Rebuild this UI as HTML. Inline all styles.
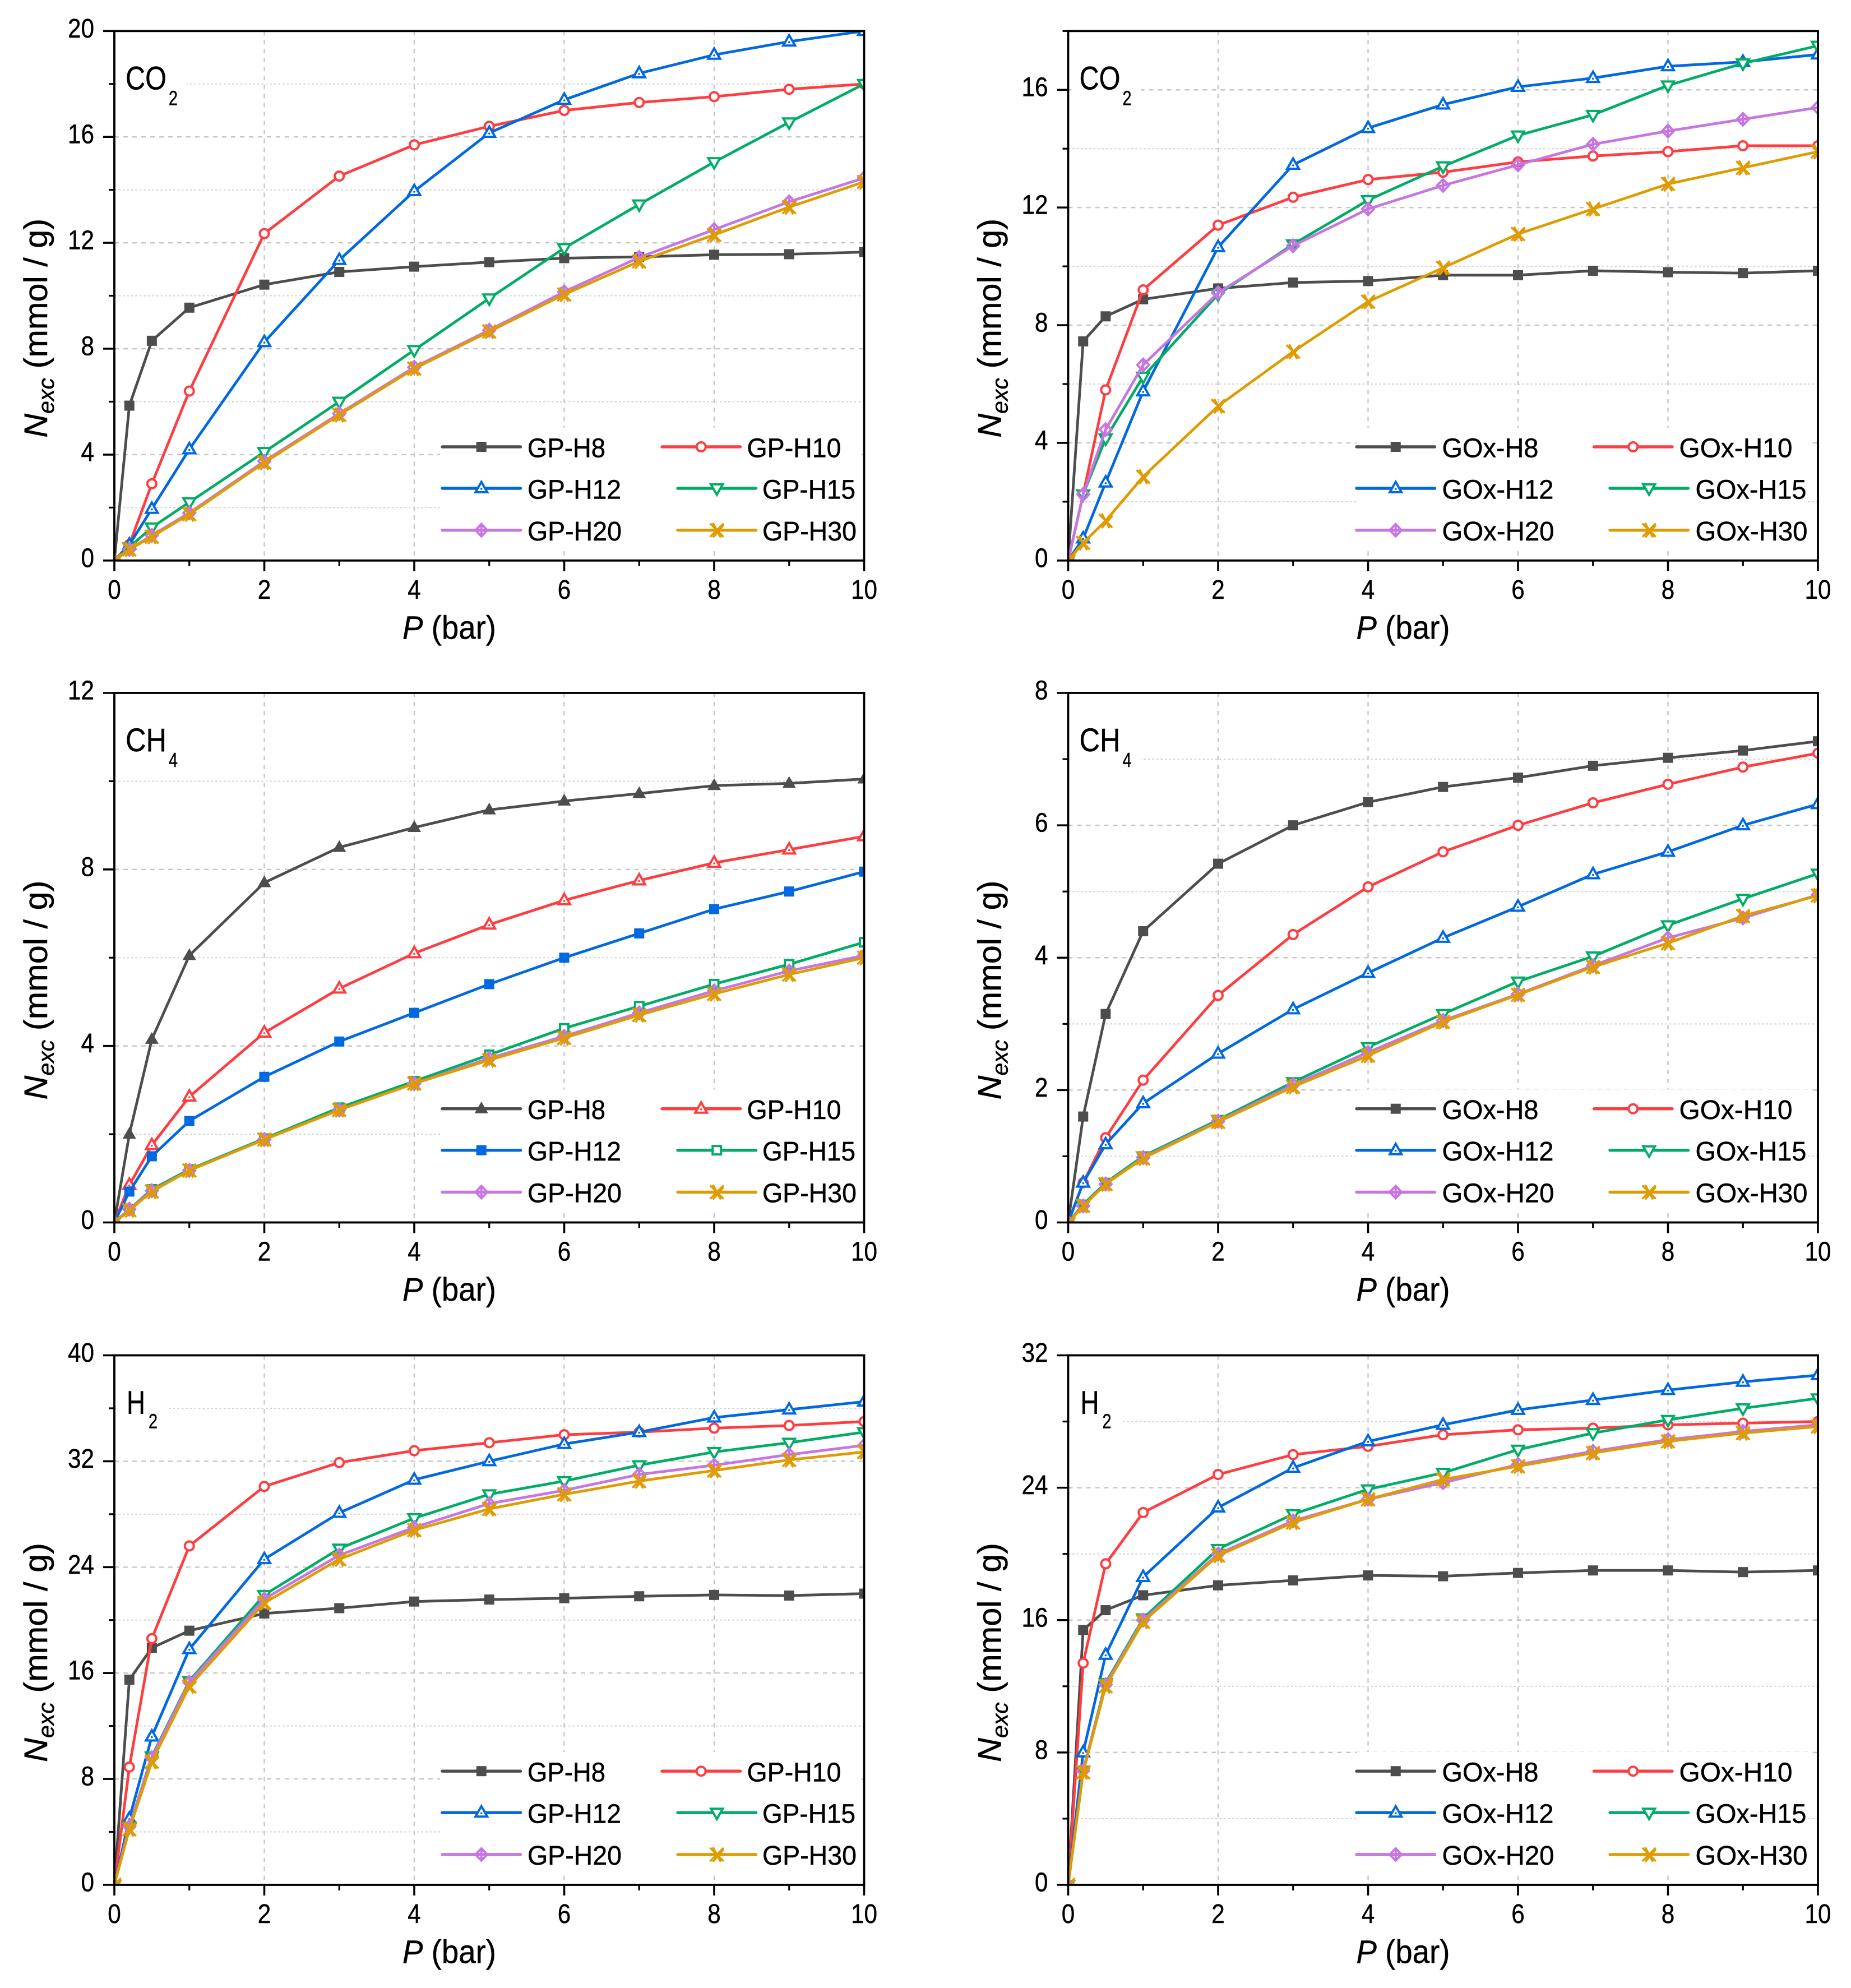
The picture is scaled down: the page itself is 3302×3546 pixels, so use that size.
<!DOCTYPE html>
<html lang="en">
<head>
<meta charset="utf-8">
<title>Excess adsorption isotherms</title>
<style>
html,body{margin:0;padding:0;background:#fff;width:3302px;height:3546px;overflow:hidden}
svg{display:block;font-family:"Liberation Sans",Arial,sans-serif;fill:#000}
text{white-space:pre;fill:#000;stroke:#000;stroke-width:.5px}
.tick{font-size:48px}
.leg{font-size:48px}
.gas{font-size:58px}
.gas-sub{font-size:36px}
.axt{font-size:58px}
.it{font-style:italic}
</style>
</head>
<body>
<svg id="figure" xmlns="http://www.w3.org/2000/svg" width="3302" height="3546" viewBox="0 0 3302 3546">
<defs><clipPath id="plot-clip"><rect x="0" y="0" width="1337.5" height="944.5"/></clipPath></defs>

<g data-panel="a" transform="translate(204,55.3)">
  <g class="grid"></g>
  <rect class="lbox" x="6" y="45" width="124" height="100" fill="#fff"/>
  <rect class="lgbox" x="581" y="707.5" width="752" height="217" fill="#fff"/>
  <g class="series" clip-path="url(#plot-clip)"></g>
  <g class="axes"></g>
  <text class="gas" x="20" y="104" textLength="73" lengthAdjust="spacingAndGlyphs">CO</text>
  <text class="gas-sub" x="97" y="132" textLength="16" lengthAdjust="spacingAndGlyphs">2</text>
  <text class="axt" x="514" y="1084" textLength="167" lengthAdjust="spacingAndGlyphs"><tspan class="it">P</tspan> (bar)</text>
  <text class="axt" transform="translate(-120,725.5) rotate(-90)" textLength="391" lengthAdjust="spacingAndGlyphs"><tspan class="it">N</tspan><tspan class="it" font-size="40" dy="12">exc</tspan><tspan dy="-12"> (mmol / g)</tspan></text>
  <g class="legend">
    <text class="leg" x="737" y="760" textLength="139" lengthAdjust="spacingAndGlyphs">GP-H8</text>
    <text class="leg" x="1128.5" y="760" textLength="168" lengthAdjust="spacingAndGlyphs">GP-H10</text>
    <text class="leg" x="737" y="834" textLength="167" lengthAdjust="spacingAndGlyphs">GP-H12</text>
    <text class="leg" x="1156" y="834" textLength="166" lengthAdjust="spacingAndGlyphs">GP-H15</text>
    <text class="leg" x="737" y="908.5" textLength="168" lengthAdjust="spacingAndGlyphs">GP-H20</text>
    <text class="leg" x="1156" y="908.5" textLength="168" lengthAdjust="spacingAndGlyphs">GP-H30</text>
  </g>
</g>

<g data-panel="b" transform="translate(1905.5,55.3)">
  <g class="grid"></g>
  <rect class="lbox" x="6" y="45" width="124" height="100" fill="#fff"/>
  <rect class="lgbox" x="515" y="707.5" width="805" height="217" fill="#fff"/>
  <g class="series" clip-path="url(#plot-clip)"></g>
  <g class="axes"></g>
  <text class="gas" x="20" y="104" textLength="73" lengthAdjust="spacingAndGlyphs">CO</text>
  <text class="gas-sub" x="97" y="132" textLength="16" lengthAdjust="spacingAndGlyphs">2</text>
  <text class="axt" x="514" y="1084" textLength="167" lengthAdjust="spacingAndGlyphs"><tspan class="it">P</tspan> (bar)</text>
  <text class="axt" transform="translate(-120,725.5) rotate(-90)" textLength="391" lengthAdjust="spacingAndGlyphs"><tspan class="it">N</tspan><tspan class="it" font-size="40" dy="12">exc</tspan><tspan dy="-12"> (mmol / g)</tspan></text>
  <g class="legend">
    <text class="leg" x="667" y="760" textLength="172" lengthAdjust="spacingAndGlyphs">GOx-H8</text>
    <text class="leg" x="1090" y="760" textLength="202" lengthAdjust="spacingAndGlyphs">GOx-H10</text>
    <text class="leg" x="667" y="834" textLength="199" lengthAdjust="spacingAndGlyphs">GOx-H12</text>
    <text class="leg" x="1119" y="834" textLength="198" lengthAdjust="spacingAndGlyphs">GOx-H15</text>
    <text class="leg" x="667" y="908.5" textLength="200" lengthAdjust="spacingAndGlyphs">GOx-H20</text>
    <text class="leg" x="1119" y="908.5" textLength="200" lengthAdjust="spacingAndGlyphs">GOx-H30</text>
  </g>
</g>

<g data-panel="c" transform="translate(204,1236)">
  <g class="grid"></g>
  <rect class="lbox" x="6" y="45" width="124" height="100" fill="#fff"/>
  <rect class="lgbox" x="581" y="707.5" width="752" height="217" fill="#fff"/>
  <g class="series" clip-path="url(#plot-clip)"></g>
  <g class="axes"></g>
  <text class="gas" x="20" y="104" textLength="73" lengthAdjust="spacingAndGlyphs">CH</text>
  <text class="gas-sub" x="97" y="132" textLength="16" lengthAdjust="spacingAndGlyphs">4</text>
  <text class="axt" x="514" y="1084" textLength="167" lengthAdjust="spacingAndGlyphs"><tspan class="it">P</tspan> (bar)</text>
  <text class="axt" transform="translate(-120,725.5) rotate(-90)" textLength="391" lengthAdjust="spacingAndGlyphs"><tspan class="it">N</tspan><tspan class="it" font-size="40" dy="12">exc</tspan><tspan dy="-12"> (mmol / g)</tspan></text>
  <g class="legend">
    <text class="leg" x="737" y="760" textLength="139" lengthAdjust="spacingAndGlyphs">GP-H8</text>
    <text class="leg" x="1128.5" y="760" textLength="168" lengthAdjust="spacingAndGlyphs">GP-H10</text>
    <text class="leg" x="737" y="834" textLength="167" lengthAdjust="spacingAndGlyphs">GP-H12</text>
    <text class="leg" x="1156" y="834" textLength="166" lengthAdjust="spacingAndGlyphs">GP-H15</text>
    <text class="leg" x="737" y="908.5" textLength="168" lengthAdjust="spacingAndGlyphs">GP-H20</text>
    <text class="leg" x="1156" y="908.5" textLength="168" lengthAdjust="spacingAndGlyphs">GP-H30</text>
  </g>
</g>

<g data-panel="d" transform="translate(1905.5,1236)">
  <g class="grid"></g>
  <rect class="lbox" x="6" y="45" width="124" height="100" fill="#fff"/>
  <rect class="lgbox" x="515" y="707.5" width="805" height="217" fill="#fff"/>
  <g class="series" clip-path="url(#plot-clip)"></g>
  <g class="axes"></g>
  <text class="gas" x="20" y="104" textLength="73" lengthAdjust="spacingAndGlyphs">CH</text>
  <text class="gas-sub" x="97" y="132" textLength="16" lengthAdjust="spacingAndGlyphs">4</text>
  <text class="axt" x="514" y="1084" textLength="167" lengthAdjust="spacingAndGlyphs"><tspan class="it">P</tspan> (bar)</text>
  <text class="axt" transform="translate(-120,725.5) rotate(-90)" textLength="391" lengthAdjust="spacingAndGlyphs"><tspan class="it">N</tspan><tspan class="it" font-size="40" dy="12">exc</tspan><tspan dy="-12"> (mmol / g)</tspan></text>
  <g class="legend">
    <text class="leg" x="667" y="760" textLength="172" lengthAdjust="spacingAndGlyphs">GOx-H8</text>
    <text class="leg" x="1090" y="760" textLength="202" lengthAdjust="spacingAndGlyphs">GOx-H10</text>
    <text class="leg" x="667" y="834" textLength="199" lengthAdjust="spacingAndGlyphs">GOx-H12</text>
    <text class="leg" x="1119" y="834" textLength="198" lengthAdjust="spacingAndGlyphs">GOx-H15</text>
    <text class="leg" x="667" y="908.5" textLength="200" lengthAdjust="spacingAndGlyphs">GOx-H20</text>
    <text class="leg" x="1119" y="908.5" textLength="200" lengthAdjust="spacingAndGlyphs">GOx-H30</text>
  </g>
</g>

<g data-panel="e" transform="translate(204,2417.5)">
  <g class="grid"></g>
  <rect class="lbox" x="6" y="45" width="92" height="100" fill="#fff"/>
  <rect class="lgbox" x="581" y="707.5" width="752" height="217" fill="#fff"/>
  <g class="series" clip-path="url(#plot-clip)"></g>
  <g class="axes"></g>
  <text class="gas" x="22" y="104" textLength="33" lengthAdjust="spacingAndGlyphs">H</text>
  <text class="gas-sub" x="61" y="130" textLength="16" lengthAdjust="spacingAndGlyphs">2</text>
  <text class="axt" x="514" y="1084" textLength="167" lengthAdjust="spacingAndGlyphs"><tspan class="it">P</tspan> (bar)</text>
  <text class="axt" transform="translate(-120,725.5) rotate(-90)" textLength="391" lengthAdjust="spacingAndGlyphs"><tspan class="it">N</tspan><tspan class="it" font-size="40" dy="12">exc</tspan><tspan dy="-12"> (mmol / g)</tspan></text>
  <g class="legend">
    <text class="leg" x="737" y="760" textLength="139" lengthAdjust="spacingAndGlyphs">GP-H8</text>
    <text class="leg" x="1128.5" y="760" textLength="168" lengthAdjust="spacingAndGlyphs">GP-H10</text>
    <text class="leg" x="737" y="834" textLength="167" lengthAdjust="spacingAndGlyphs">GP-H12</text>
    <text class="leg" x="1156" y="834" textLength="166" lengthAdjust="spacingAndGlyphs">GP-H15</text>
    <text class="leg" x="737" y="908.5" textLength="168" lengthAdjust="spacingAndGlyphs">GP-H20</text>
    <text class="leg" x="1156" y="908.5" textLength="168" lengthAdjust="spacingAndGlyphs">GP-H30</text>
  </g>
</g>

<g data-panel="f" transform="translate(1905.5,2417.5)">
  <g class="grid"></g>
  <rect class="lbox" x="6" y="45" width="92" height="100" fill="#fff"/>
  <rect class="lgbox" x="515" y="707.5" width="805" height="217" fill="#fff"/>
  <g class="series" clip-path="url(#plot-clip)"></g>
  <g class="axes"></g>
  <text class="gas" x="22" y="104" textLength="33" lengthAdjust="spacingAndGlyphs">H</text>
  <text class="gas-sub" x="61" y="130" textLength="16" lengthAdjust="spacingAndGlyphs">2</text>
  <text class="axt" x="514" y="1084" textLength="167" lengthAdjust="spacingAndGlyphs"><tspan class="it">P</tspan> (bar)</text>
  <text class="axt" transform="translate(-120,725.5) rotate(-90)" textLength="391" lengthAdjust="spacingAndGlyphs"><tspan class="it">N</tspan><tspan class="it" font-size="40" dy="12">exc</tspan><tspan dy="-12"> (mmol / g)</tspan></text>
  <g class="legend">
    <text class="leg" x="667" y="760" textLength="172" lengthAdjust="spacingAndGlyphs">GOx-H8</text>
    <text class="leg" x="1090" y="760" textLength="202" lengthAdjust="spacingAndGlyphs">GOx-H10</text>
    <text class="leg" x="667" y="834" textLength="199" lengthAdjust="spacingAndGlyphs">GOx-H12</text>
    <text class="leg" x="1119" y="834" textLength="198" lengthAdjust="spacingAndGlyphs">GOx-H15</text>
    <text class="leg" x="667" y="908.5" textLength="200" lengthAdjust="spacingAndGlyphs">GOx-H20</text>
    <text class="leg" x="1119" y="908.5" textLength="200" lengthAdjust="spacingAndGlyphs">GOx-H30</text>
  </g>
</g>
</svg>

<script>
/* shared x data and tick labels */
var pressures = [0, 0.2, 0.5, 1, 2, 3, 4, 5, 6, 7, 8, 9, 10];
var xMajorTicks = [0, 2, 4, 6, 8, 10];
var xMinorTicks = [1, 3, 5, 7, 9];
var seriesNames = ['h8', 'h10', 'h12', 'h15', 'h20', 'h30'];

/* panel a: GP CO2 */
var gpCo2H8 = [0, 5.85, 8.3, 9.55, 10.42, 10.9, 11.1, 11.27, 11.42, 11.47, 11.55, 11.57, 11.65];
var gpCo2H10 = [0, 0.6, 2.9, 6.4, 12.35, 14.52, 15.7, 16.4, 17.0, 17.3, 17.52, 17.8, 18.0];
var gpCo2H12 = [0, 0.6, 1.95, 4.2, 8.25, 11.35, 13.95, 16.15, 17.4, 18.4, 19.1, 19.6, 20.0];
var gpCo2H15 = [0, 0.5, 1.25, 2.2, 4.1, 6.0, 7.95, 9.9, 11.8, 13.45, 15.05, 16.55, 18.0];
var gpCo2H20 = [0, 0.42, 0.95, 1.8, 3.75, 5.55, 7.3, 8.7, 10.15, 11.45, 12.5, 13.55, 14.45];
var gpCo2H30 = [0, 0.42, 0.9, 1.75, 3.7, 5.5, 7.25, 8.65, 10.05, 11.3, 12.3, 13.35, 14.3];
var gpCo2YMajor = [0, 4, 8, 12, 16, 20];
var gpCo2YMinor = [2, 6, 10, 14, 18];

/* panel b: GOx CO2 */
var goxCo2H8 = [0, 7.45, 8.3, 8.88, 9.25, 9.45, 9.5, 9.7, 9.7, 9.85, 9.8, 9.77, 9.85];
var goxCo2H10 = [0, 2.25, 5.8, 9.2, 11.4, 12.35, 12.95, 13.2, 13.55, 13.75, 13.9, 14.1, 14.1];
var goxCo2H12 = [0, 0.75, 2.65, 5.75, 10.65, 13.45, 14.7, 15.5, 16.1, 16.4, 16.8, 16.95, 17.2];
var goxCo2H15 = [0, 2.25, 4.15, 6.25, 9.05, 10.75, 12.25, 13.4, 14.45, 15.15, 16.15, 16.9, 17.5];
var goxCo2H20 = [0, 2.25, 4.45, 6.65, 9.1, 10.7, 11.95, 12.75, 13.45, 14.15, 14.6, 15.0, 15.4];
var goxCo2H30 = [0, 0.6, 1.35, 2.85, 5.25, 7.1, 8.8, 9.95, 11.1, 11.95, 12.8, 13.35, 13.9];
var goxCo2YMajor = [0, 4, 8, 12, 16];
var goxCo2YMinor = [2, 6, 10, 14, 18];

/* panel c: GP CH4 */
var gpCh4H8 = [0, 2.0, 4.15, 6.05, 7.7, 8.5, 8.95, 9.35, 9.55, 9.72, 9.9, 9.95, 10.05];
var gpCh4H10 = [0, 0.85, 1.75, 2.85, 4.3, 5.3, 6.1, 6.75, 7.3, 7.75, 8.15, 8.45, 8.75];
var gpCh4H12 = [0, 0.7, 1.5, 2.3, 3.3, 4.1, 4.75, 5.4, 6.0, 6.55, 7.1, 7.5, 7.95];
var gpCh4H15 = [0, 0.3, 0.75, 1.2, 1.9, 2.6, 3.2, 3.8, 4.4, 4.9, 5.4, 5.85, 6.35];
var gpCh4H20 = [0, 0.3, 0.72, 1.18, 1.88, 2.55, 3.15, 3.72, 4.22, 4.75, 5.25, 5.7, 6.05];
var gpCh4H30 = [0, 0.28, 0.7, 1.18, 1.88, 2.55, 3.15, 3.68, 4.18, 4.7, 5.18, 5.62, 6.0];
var gpCh4YMajor = [0, 4, 8, 12];
var gpCh4YMinor = [2, 6, 10];

/* panel d: GOx CH4 */
var goxCh4H8 = [0, 1.6, 3.15, 4.4, 5.42, 6.0, 6.35, 6.58, 6.72, 6.9, 7.02, 7.13, 7.27];
var goxCh4H10 = [0, 0.6, 1.28, 2.15, 3.43, 4.35, 5.07, 5.6, 6.0, 6.34, 6.62, 6.88, 7.09];
var goxCh4H12 = [0, 0.6, 1.18, 1.8, 2.55, 3.22, 3.77, 4.3, 4.77, 5.26, 5.6, 6.0, 6.32];
var goxCh4H15 = [0, 0.27, 0.6, 1.0, 1.55, 2.12, 2.65, 3.15, 3.64, 4.02, 4.49, 4.89, 5.27];
var goxCh4H20 = [0, 0.25, 0.58, 0.98, 1.53, 2.08, 2.57, 3.05, 3.45, 3.88, 4.3, 4.6, 4.95];
var goxCh4H30 = [0, 0.25, 0.58, 0.97, 1.52, 2.05, 2.52, 3.03, 3.44, 3.86, 4.22, 4.63, 4.94];
var goxCh4YMajor = [0, 2, 4, 6, 8];
var goxCh4YMinor = [1, 3, 5, 7];

/* panel e: GP H2 */
var gpH2H8 = [0, 15.5, 17.9, 19.2, 20.5, 20.9, 21.4, 21.55, 21.65, 21.8, 21.9, 21.85, 22.0];
var gpH2H10 = [0, 8.9, 18.6, 25.6, 30.1, 31.9, 32.8, 33.4, 34.0, 34.2, 34.5, 34.7, 35.0];
var gpH2H12 = [0, 5.0, 11.2, 17.8, 24.6, 28.1, 30.6, 32.0, 33.3, 34.2, 35.3, 35.9, 36.5];
var gpH2H15 = [0, 4.4, 9.7, 15.4, 21.9, 25.4, 27.7, 29.5, 30.5, 31.7, 32.7, 33.4, 34.2];
var gpH2H20 = [0, 4.4, 9.6, 15.3, 21.6, 24.9, 27.0, 28.8, 29.8, 31.0, 31.7, 32.5, 33.2];
var gpH2H30 = [0, 4.2, 9.3, 15.0, 21.3, 24.6, 26.8, 28.4, 29.5, 30.5, 31.3, 32.1, 32.7];
var gpH2YMajor = [0, 8, 16, 24, 32, 40];
var gpH2YMinor = [4, 12, 20, 28, 36];

/* panel f: GOx H2 */
var goxH2H8 = [0, 15.4, 16.6, 17.5, 18.1, 18.4, 18.7, 18.65, 18.85, 19.0, 19.0, 18.9, 19.0];
var goxH2H10 = [0, 13.4, 19.4, 22.5, 24.8, 26.0, 26.5, 27.2, 27.5, 27.6, 27.8, 27.9, 28.0];
var goxH2H12 = [0, 8.0, 13.9, 18.6, 22.8, 25.2, 26.8, 27.8, 28.7, 29.3, 29.9, 30.4, 30.8];
var goxH2H15 = [0, 6.9, 12.2, 16.1, 20.3, 22.4, 23.9, 24.9, 26.3, 27.3, 28.1, 28.8, 29.4];
var goxH2H20 = [0, 6.9, 12.1, 16.0, 20.0, 22.0, 23.3, 24.3, 25.4, 26.2, 26.9, 27.4, 27.8];
var goxH2H30 = [0, 6.8, 12.0, 15.9, 19.9, 21.9, 23.3, 24.5, 25.3, 26.1, 26.8, 27.3, 27.7];
var goxH2YMajor = [0, 8, 16, 24, 32];
var goxH2YMinor = [4, 12, 20, 28];

var NS = 'http://www.w3.org/2000/svg';
var PLOT_W = 1337.5, PLOT_H = 944.5;
var COLORS = ['#4d4d4d', '#ff3d41', '#0068e0', '#00ad66', '#c675e3', '#e09b00'];
var DEFAULT_MARKERS = ['square', 'circle', 'triangle', 'triangle-down', 'diamond', 'star'];
var CH4_GP_MARKERS = ['triangle-filled', 'triangle', 'square', 'square-open', 'diamond', 'star'];

function svgEl(tag, attrs, parent) {
  var el = document.createElementNS(NS, tag);
  for (var k in attrs) el.setAttribute(k, attrs[k]);
  if (parent) parent.appendChild(el);
  return el;
}

function drawMarker(parent, kind, color, x, y) {
  var g = svgEl('g', {transform: 'translate(' + x + ',' + y + ')', 'stroke-linejoin': 'miter'}, parent);
  var sw = 4;
  if (kind === 'square') {
    svgEl('rect', {x: -9, y: -9, width: 18, height: 18, fill: color}, g);
  } else if (kind === 'square-open') {
    svgEl('rect', {x: -7.5, y: -7.5, width: 15, height: 15, fill: '#fff', stroke: color, 'stroke-width': sw}, g);
  } else if (kind === 'circle') {
    svgEl('circle', {cx: 0, cy: 0, r: 8, fill: '#fff', stroke: color, 'stroke-width': sw}, g);
  } else if (kind === 'triangle') {
    svgEl('path', {d: 'M0,-11.5 L10.5,7 L-10.5,7 Z', fill: '#fff', stroke: color, 'stroke-width': sw}, g);
    svgEl('circle', {cx: 0, cy: 1, r: 1.8, fill: color}, g);
  } else if (kind === 'triangle-filled') {
    svgEl('path', {d: 'M0,-13 L12,8 L-12,8 Z', fill: color}, g);
  } else if (kind === 'triangle-down') {
    svgEl('path', {d: 'M0,11.5 L10.5,-7 L-10.5,-7 Z', fill: '#fff', stroke: color, 'stroke-width': sw}, g);
  } else if (kind === 'diamond') {
    svgEl('path', {d: 'M0,-11 L10.5,0 L0,11 L-10.5,0 Z M0,-11 L0,11', fill: 'none', stroke: color, 'stroke-width': sw}, g);
  } else if (kind === 'star') {
    svgEl('path', {d: 'M-12,-12 L12,12 M-12,12 L12,-12 M-7,-13 L7,13 M-7,13 L12,-9', fill: 'none', stroke: color, 'stroke-width': 3.6}, g);
  }
  return g;
}

function drawPanel(key, yMax, yMajor, yMinor, seriesData, markers, legendLeft, legendRight) {
  var root = document.querySelector('[data-panel="' + key + '"]');
  var grid = root.querySelector('.grid');
  var axes = root.querySelector('.axes');
  var seriesGroup = root.querySelector('.series');
  var legend = root.querySelector('.legend');
  function sx(v) { return v / 10 * PLOT_W; }
  function sy(v) { return PLOT_H - v / yMax * PLOT_H; }

  xMajorTicks.forEach(function (t) {
    if (t === 0 || t === 10) return;
    var line = svgEl('line', {x1: sx(t), x2: sx(t), y1: 0, y2: PLOT_H, stroke: '#c6c6c6', 'stroke-width': 2.4, 'stroke-dasharray': '8 8'}, grid);
    
    
  });
  yMajor.forEach(function (t) {
    if (t === 0 || t === yMax) return;
    var line = svgEl('line', {x1: 0, x2: PLOT_W, y1: sy(t), y2: sy(t), stroke: '#c6c6c6', 'stroke-width': 2.4, 'stroke-dasharray': '8 8'}, grid);
    
    
  });
  yMinor.forEach(function (t) {
    if (t === yMax) return;
    var line = svgEl('line', {x1: 0, x2: PLOT_W, y1: sy(t), y2: sy(t), stroke: '#d2d2d2', 'stroke-width': 2, 'stroke-dasharray': '3.5 4'}, grid);
    
    
  });

  seriesData.forEach(function (values, i) {
    var g = svgEl('g', {}, seriesGroup);
    
    
    var pts = values.map(function (v, j) { return sx(pressures[j]) + ',' + sy(v); }).join(' ');
    var line = svgEl('polyline', {points: pts, fill: 'none', stroke: COLORS[i], 'stroke-width': 4.8, 'stroke-linejoin': 'round'}, g);
    
    
    values.forEach(function (v, j) {
      var m = drawMarker(g, markers[i], COLORS[i], sx(pressures[j]), sy(v));
      
      
    });
  });

  var frame = svgEl('rect', {x: 0, y: 0, width: PLOT_W, height: PLOT_H, fill: 'none', stroke: '#000', 'stroke-width': 3.8}, axes);
  
  

  xMajorTicks.forEach(function (t) {
    var tick = svgEl('line', {x1: sx(t), x2: sx(t), y1: PLOT_H, y2: PLOT_H + 19, stroke: '#000', 'stroke-width': 3.6}, axes);
    
    
    var lab = svgEl('text', {'class': 'tick', x: sx(t), y: PLOT_H + 68, 'text-anchor': 'middle', textLength: String(t).length * 23.5, lengthAdjust: 'spacingAndGlyphs'}, axes);
    lab.textContent = String(t);
    
    
  });
  xMinorTicks.forEach(function (t) {
    var tick = svgEl('line', {x1: sx(t), x2: sx(t), y1: PLOT_H, y2: PLOT_H + 10, stroke: '#000', 'stroke-width': 3.2}, axes);
    
    
  });
  yMajor.forEach(function (t) {
    var tick = svgEl('line', {x1: -20, x2: 0, y1: sy(t), y2: sy(t), stroke: '#000', 'stroke-width': 3.6}, axes);
    
    
    var lab = svgEl('text', {'class': 'tick', x: -36, y: sy(t) + 11.5, 'text-anchor': 'end', textLength: String(t).length * 23.5, lengthAdjust: 'spacingAndGlyphs'}, axes);
    lab.textContent = String(t);
    
    
  });
  yMinor.forEach(function (t) {
    var tick = svgEl('line', {x1: -10, x2: 0, y1: sy(t), y2: sy(t), stroke: '#000', 'stroke-width': 3.2}, axes);
    
    
  });

  var legendRows = [741.7, 815.7, 890.4];
  seriesNames.forEach(function (name, i) {
    var rowIdx = Math.floor(i / 2);
    var x0 = (i % 2 === 0) ? legendLeft : (i === 1 ? legendRight[0] : legendRight[1]);
    var y0 = legendRows[rowIdx];
    var g = svgEl('g', {}, legend);
    
    
    svgEl('line', {x1: x0, x2: x0 + 139.5, y1: y0, y2: y0, stroke: COLORS[i], 'stroke-width': 5.4, 'stroke-linecap': 'round'}, g);
    drawMarker(g, markers[i], COLORS[i], x0 + 69.75, y0);
  });
}

drawPanel('a', 20, gpCo2YMajor, gpCo2YMinor, [gpCo2H8, gpCo2H10, gpCo2H12, gpCo2H15, gpCo2H20, gpCo2H30], DEFAULT_MARKERS, 585, [977, 1005]);
drawPanel('b', 18, goxCo2YMajor, goxCo2YMinor, [goxCo2H8, goxCo2H10, goxCo2H12, goxCo2H15, goxCo2H20, goxCo2H30], DEFAULT_MARKERS, 514.5, [938, 966.5]);
drawPanel('c', 12, gpCh4YMajor, gpCh4YMinor, [gpCh4H8, gpCh4H10, gpCh4H12, gpCh4H15, gpCh4H20, gpCh4H30], CH4_GP_MARKERS, 585, [977, 1005]);
drawPanel('d', 8, goxCh4YMajor, goxCh4YMinor, [goxCh4H8, goxCh4H10, goxCh4H12, goxCh4H15, goxCh4H20, goxCh4H30], DEFAULT_MARKERS, 514.5, [938, 966.5]);
drawPanel('e', 40, gpH2YMajor, gpH2YMinor, [gpH2H8, gpH2H10, gpH2H12, gpH2H15, gpH2H20, gpH2H30], DEFAULT_MARKERS, 585, [977, 1005]);
drawPanel('f', 32, goxH2YMajor, goxH2YMinor, [goxH2H8, goxH2H10, goxH2H12, goxH2H15, goxH2H20, goxH2H30], DEFAULT_MARKERS, 514.5, [938, 966.5]);
</script>
</body>
</html>
